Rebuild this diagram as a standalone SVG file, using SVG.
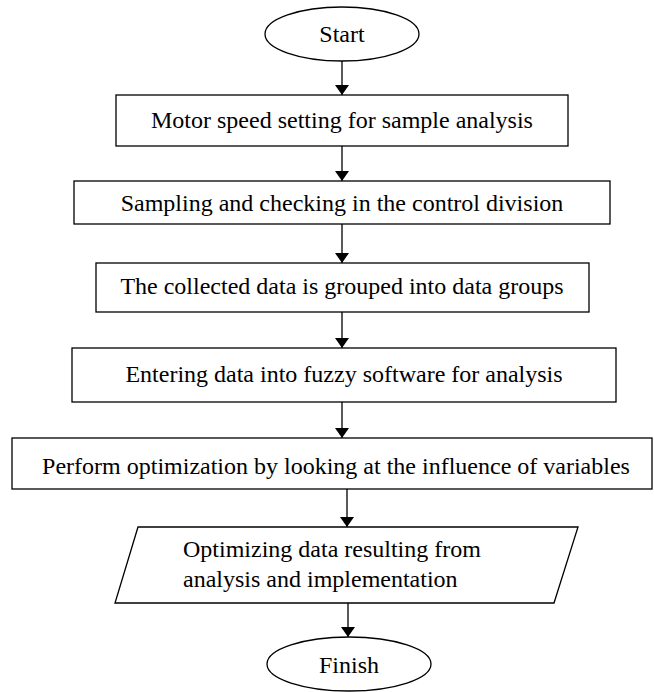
<svg xmlns="http://www.w3.org/2000/svg" width="654" height="692" viewBox="0 0 654 692">
<defs>
<style>
.s{fill:#fff;stroke:#000;stroke-width:1.3}
.t{font-family:"Liberation Serif","Times New Roman",serif;font-size:24px;fill:#000}
.m{text-anchor:middle}
.c{stroke:#000;stroke-width:1.3;fill:none}
</style>
<marker id="ah" markerWidth="10" markerHeight="14" refX="10" refY="7" orient="auto" markerUnits="userSpaceOnUse" viewBox="0 0 10 14">
<path d="M0,0 L10,7 L0,14 z" fill="#000"/>
</marker>
</defs>
<rect width="654" height="692" fill="#fff"/>
<g id="start"><ellipse class="s" cx="342" cy="34" rx="77" ry="27"/><text class="t m" x="342" y="42">Start</text></g>
<g id="n1"><rect class="s" x="116" y="95" width="452" height="51"/><text class="t m" x="342" y="128">Motor speed setting for sample analysis</text></g>
<g id="n2"><rect class="s" x="74" y="181" width="536" height="43"/><text class="t m" x="342" y="211">Sampling and checking in the control division</text></g>
<g id="n3"><rect class="s" x="96" y="263" width="493" height="49"/><text class="t m" x="342" y="294">The collected data is grouped into data groups</text></g>
<g id="n4"><rect class="s" x="72" y="348" width="544" height="54"/><text class="t m" x="344" y="382">Entering data into fuzzy software for analysis</text></g>
<g id="n5"><rect class="s" x="12" y="438" width="640" height="51"/><text class="t m" x="336" y="474">Perform optimization by looking at the influence of variables</text></g>
<g id="n6"><path class="s" d="M138,527 L578,527 L554,603 L115,603 Z"/><text class="t" x="183" y="557">Optimizing data resulting from</text><text class="t" x="183" y="587">analysis and implementation</text></g>
<g id="finish"><ellipse class="s" cx="349" cy="664" rx="82" ry="27"/><text class="t m" x="349" y="673">Finish</text></g>
<g id="connectors">
<line class="c" x1="342" y1="61" x2="342" y2="95" marker-end="url(#ah)"/>
<line class="c" x1="342" y1="146" x2="342" y2="181" marker-end="url(#ah)"/>
<line class="c" x1="342" y1="224" x2="342" y2="263" marker-end="url(#ah)"/>
<line class="c" x1="342" y1="312" x2="342" y2="348" marker-end="url(#ah)"/>
<line class="c" x1="342" y1="402" x2="342" y2="438" marker-end="url(#ah)"/>
<line class="c" x1="347" y1="489" x2="347" y2="527" marker-end="url(#ah)"/>
<line class="c" x1="348" y1="603" x2="348" y2="637" marker-end="url(#ah)"/>
</g>
</svg>
